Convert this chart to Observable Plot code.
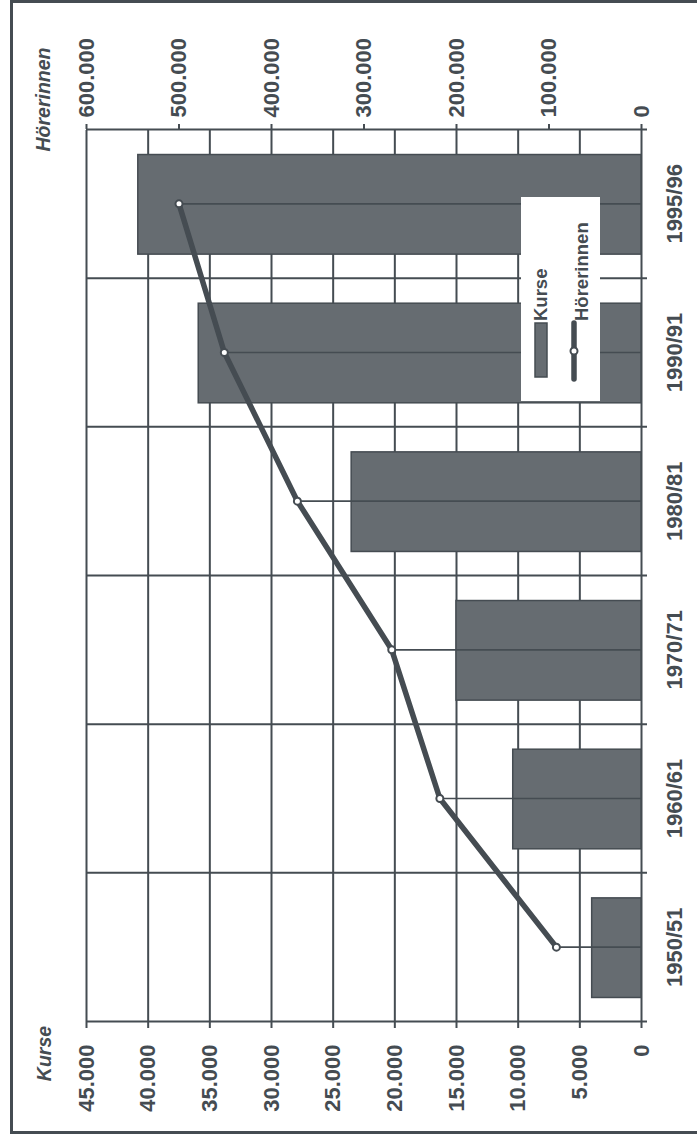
<!DOCTYPE html>
<html>
<head>
<meta charset="utf-8">
<script src="https://cdn.jsdelivr.net/npm/d3@7"></script>
<script src="https://cdn.jsdelivr.net/npm/@observablehq/plot@0.6"></script>
<style>
html, body { margin: 0; padding: 0; background: #fff; }
body { width: 697px; height: 1140px; overflow: hidden; position: relative; font-family: "Liberation Sans", Arial, sans-serif; }
#frame { position: absolute; left: 10px; top: 0; width: 690px; height: 1134px; box-sizing: border-box;
  border-left: 3px solid #454c52; border-top: 3px solid #454c52; border-bottom: 3px solid #454c52; }
#rot { position: absolute; left: 0; top: 0; width: 1140px; height: 697px;
  transform-origin: 0 0; transform: translate(0, 1140px) rotate(-90deg); }
#rot > svg { position: absolute; left: 0; top: 0; }
#rot > svg#legend { left: 739px; top: 521px; }
</style>
</head>
<body>
<div id="frame"></div>
<div id="rot"></div>
<script>
// ---- data ----
const categories = ["1950/51", "1960/61", "1970/71", "1980/81", "1990/91", "1995/96"];
const kurse = [4000, 10400, 15000, 23500, 35900, 40800];
const hoererinnen = [92000, 218000, 270000, 372000, 451000, 500000];
const kurseTicks = [0, 5000, 10000, 15000, 20000, 25000, 30000, 35000, 40000, 45000];
const hoerTicks = [0, 100000, 200000, 300000, 400000, 500000, 600000];

const INK = "#454c52";
const BAR = "#666c71";
const W = 1140, H = 697;
const M = {top: 86, right: 130, bottom: 56, left: 118};
const step = (W - M.left - M.right) / categories.length;
const fmt = d => d3.format(",")(d).replace(/,/g, ".");
const rows = categories.map((c, i) => ({cat: c, kurse: kurse[i], hoer: hoererinnen[i]}));
const font = "'Liberation Sans', Arial, sans-serif";
const baseStyle = {fontFamily: font, fontSize: "22px", fontWeight: "bold", color: INK, background: "transparent", overflow: "visible"};

const p1 = Plot.plot({
  width: W, height: H,
  marginTop: M.top, marginRight: M.right, marginBottom: M.bottom, marginLeft: M.left,
  style: baseStyle,
  x: {type: "band", domain: categories, paddingInner: 0.33, paddingOuter: 0.165, round: false, label: null},
  y: {domain: [0, 45000], label: null},
  marks: [
    Plot.ruleY(kurseTicks, {stroke: INK, strokeWidth: 2}),
    Plot.barY(rows, {x: "cat", y: "kurse", fill: BAR, stroke: INK, strokeWidth: 1.5}),
    Plot.axisY(kurseTicks, {anchor: "left", tickFormat: fmt, tickSize: 6, tickPadding: 17, strokeWidth: 2, fill: INK, label: null}),
    Plot.axisX({anchor: "bottom", tickSize: 0, tickPadding: 25, fill: INK, label: null}),
    Plot.text(["Kurse"], {frameAnchor: "top-left", text: d => d, dx: -32, dy: -42, textAnchor: "middle",
      lineAnchor: "middle", fontStyle: "italic", fontSize: 19.5, fill: INK})
  ]
});

const p2 = Plot.plot({
  width: W, height: H,
  marginTop: M.top, marginRight: M.right, marginBottom: M.bottom, marginLeft: M.left,
  style: baseStyle,
  x: {type: "point", domain: categories, padding: 0.5, round: false, axis: null},
  y: {domain: [0, 600000], axis: null},
  marks: [
    // category separators: left edge of every slot, plus right edge of the last slot
    Plot.ruleX(categories, {x: d => d, dx: -step / 2, insetBottom: -6, stroke: INK, strokeWidth: 2}),
    Plot.ruleX(categories.slice(-1), {x: d => d, dx: step / 2, insetBottom: -6, stroke: INK, strokeWidth: 2}),
    Plot.ruleX(rows, {x: "cat", y1: 0, y2: "hoer", stroke: INK, strokeWidth: 1.6}),
    Plot.line(rows, {x: "cat", y: "hoer", stroke: INK, strokeWidth: 5.5, strokeLinejoin: "round", strokeLinecap: "round"}),
    Plot.dot(rows, {x: "cat", y: "hoer", r: 3.5, fill: "white", stroke: INK, strokeWidth: 2}),
    Plot.axisY(hoerTicks, {anchor: "right", tickFormat: fmt, tickSize: 5, tickPadding: 7, strokeWidth: 2, fill: INK, label: null}),
    Plot.text(["Hörerinnen"], {frameAnchor: "top-right", text: d => d, dx: 30, dy: -43, textAnchor: "middle",
      lineAnchor: "middle", fontStyle: "italic", fontSize: 19.5, fill: INK})
  ]
});

const rot = document.getElementById("rot");
rot.appendChild(p1);
rot.appendChild(p2);

// legend
const lg = d3.select(rot).append("svg").attr("id", "legend").attr("width", 204).attr("height", 79)
  .style("font-family", font).style("font-weight", "bold").style("font-size", "18.5px");
lg.append("rect").attr("width", 204).attr("height", 79).attr("fill", "white");
lg.append("rect").attr("x", 24).attr("y", 14).attr("width", 54).attr("height", 12)
  .attr("fill", BAR).attr("stroke", INK).attr("stroke-width", 1.5);
lg.append("text").attr("x", 80).attr("y", 26).attr("fill", INK).text("Kurse");
lg.append("line").attr("x1", 22).attr("x2", 78).attr("y1", 53).attr("y2", 53)
  .attr("stroke", INK).attr("stroke-width", 5.5).attr("stroke-linecap", "round");
lg.append("circle").attr("cx", 50).attr("cy", 53).attr("r", 3.5).attr("fill", "white").attr("stroke", INK).attr("stroke-width", 2);
lg.append("text").attr("x", 80).attr("y", 67).attr("fill", INK).text("Hörerinnen");
</script>
</body>
</html>
